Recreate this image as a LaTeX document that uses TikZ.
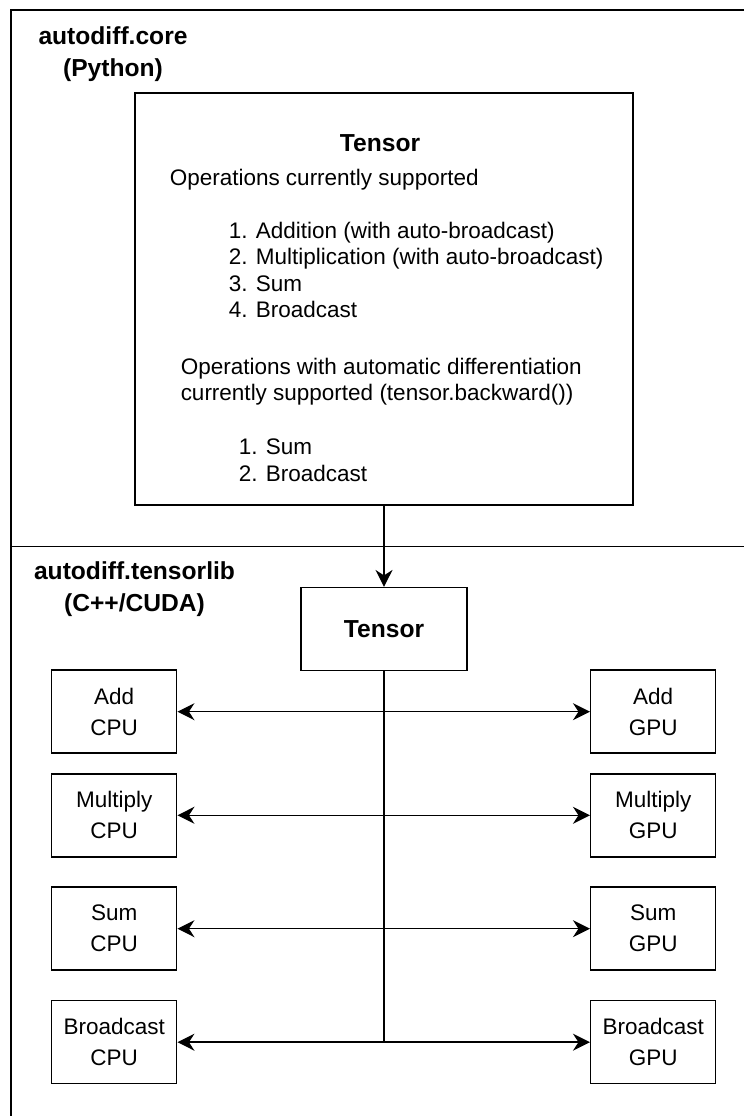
\documentclass[tikz,border=0pt]{standalone}
\usepackage{fontspec}
\setmainfont{Liberation Sans}
\usetikzlibrary{arrows.meta,positioning}

\begin{document}
\begin{tikzpicture}[x=1cm, y=1cm, line width=0.85pt,
      opbox/.style={draw, minimum width=2.5cm, minimum height=1.66cm,
        inner sep=0pt, align=center, font=\fontsize{12.8}{17.6}\selectfont},
      txt/.style={anchor=west, align=left, inner sep=0pt,
        font=\fontsize{12.8}{15.1}\selectfont},
      hdr/.style={align=center, inner sep=0pt,
        font=\fontsize{14}{18.1}\selectfont\bfseries},
      tip/.style={-{Stealth[length=3.4mm, width=3.4mm, inset=1.1mm]}},
      dtip/.style={{Stealth[length=3.4mm, width=3.4mm, inset=1.1mm]}-{Stealth[length=3.4mm, width=3.4mm, inset=1.1mm]}}
    ]
    \useasboundingbox (0,0) rectangle (14.88,22.32);

    % layer frame
    \draw (14.88,22.12) -- (0.22,22.12) -- (0.22,0);
    \draw (0.22,11.39) -- (14.88,11.39);
    \node[hdr] (corelab) at (2.26,21.24) {autodiff.core\\(Python)};
    \node[hdr] (liblab) at (2.69,10.54) {autodiff.tensorlib\\(C++/CUDA)};

    % python tensor
    \node[draw, minimum width=9.96cm, minimum height=8.24cm, inner sep=0pt]
      (pytensor) at (7.68,16.34) {};
    \node[hdr] (pytitle) at (7.60,19.46) {Tensor};
    \node[txt] (opsall) at (3.38,18.72) {Operations currently supported};
    \node[txt] (opslist) at (4.56,16.92)
      {1. Addition (with auto-broadcast)\\2. Multiplication (with auto-broadcast)\\3. Sum\\4. Broadcast};
    \node[txt] (opsgrad) at (3.60,14.69)
      {Operations with automatic differentiation\\currently supported (tensor.backward())};
    \node[txt] (gradlist) at (4.76,13.12) {1. Sum\\2. Broadcast};

    % c++ tensor
    \node[draw, minimum width=3.32cm, minimum height=1.66cm, inner sep=0pt,
      font=\fontsize{14}{18.1}\selectfont\bfseries] (libtensor) at (7.68,9.736) {Tensor};
    \draw[tip] (pytensor.south) -- (libtensor.north);

    % kernels
    \foreach \op/\name/\y in {add/Add/8.086, mul/Multiply/6.014,
        sum/Sum/3.746, bc/Broadcast/1.476} {
      \node[opbox] (\op-cpu) at (2.284,\y) {\name\\CPU};
      \node[opbox] (\op-gpu) at (13.064,\y) {\name\\GPU};
      \draw[dtip] (\op-cpu) -- (\op-gpu);
    }
    \draw (libtensor.south) -- (libtensor.south |- bc-cpu.east);
  \end{tikzpicture}
\end{document}
